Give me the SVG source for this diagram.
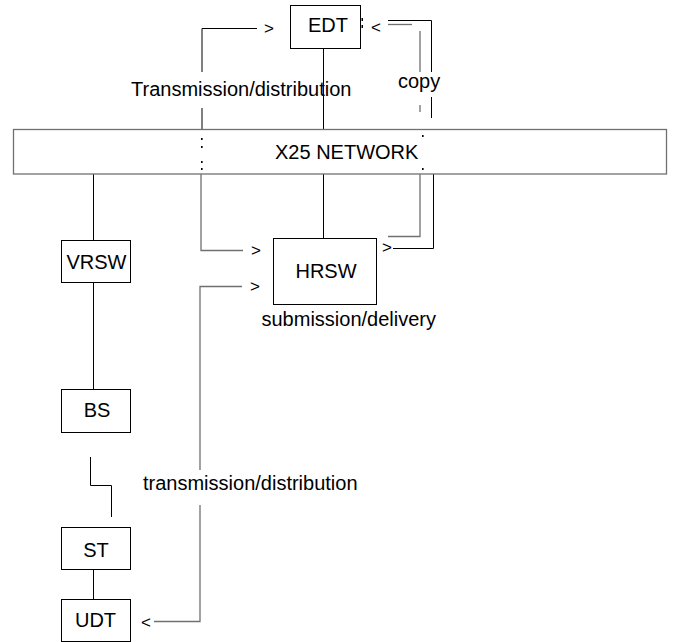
<svg xmlns="http://www.w3.org/2000/svg" width="677" height="642" viewBox="0 0 677 642">
<style>
text{font-family:"Liberation Sans",Arial,sans-serif;font-size:20px;fill:#000}
.sym{font-size:17px}
.box{fill:#fff;stroke:#000;stroke-width:1}
.ln{fill:none;stroke:#000;stroke-width:1}
.gl{fill:none;stroke:#707070;stroke-width:1.3}
.dot{fill:#000}
</style>
<rect width="677" height="642" fill="#fff"/>
<g id="connectors">
<path class="ln" d="M323.5 48 V129"/>
<path class="ln" d="M323.5 174 V238"/>
<path class="ln" d="M93.5 174 V240"/>
<path class="ln" d="M93.5 282 V389"/>
<path class="ln" d="M93.5 569 V599"/>
<path class="ln" d="M90.5 457 V485.5 H111.5 V517"/>
<path class="ln" d="M202 72 V28.5 H257"/>
<path class="ln" d="M202 108 V129"/>
<path class="gl" d="M201 174 V250.5 H243"/>
<path class="gl" d="M200 470 V286.5 H242"/>
<path class="gl" d="M200 505 V621.5 H154"/>
<path class="ln" d="M388 20.5 H431.5 V72"/>
<path class="gl" d="M388 24.5 H412"/>
<path class="gl" d="M420 31 V72"/>
<path class="gl" d="M420 105 V112"/>
<path class="ln" d="M431.5 97 V118"/>
<path class="gl" d="M420 174 V236.5 H388"/>
<path class="ln" d="M433.5 174 V248.5 H393"/>
<rect class="dot" x="361.5" y="18" width="1.5" height="3"/>
<rect class="dot" x="361.5" y="25" width="1.5" height="3"/>
</g>
<g id="x25">
<rect x="13.5" y="129.5" width="653" height="44.5" fill="#fff" stroke="#707070" stroke-width="1.3"/>
<text x="275" y="158.5">X25 NETWORK</text>
<rect class="dot" x="201" y="138" width="1.6" height="2"/>
<rect class="dot" x="201" y="146" width="1.6" height="2"/>
<rect class="dot" x="201" y="161" width="1.6" height="2"/>
<rect class="dot" x="201" y="168" width="1.6" height="2"/>
<rect class="dot" x="422" y="135" width="1.6" height="2"/>
<rect class="dot" x="422" y="168" width="1.6" height="2"/>
</g>
<g id="edt"><rect class="box" x="290.5" y="5.5" width="70" height="43"/><text x="328" y="32" text-anchor="middle">EDT</text></g>
<g id="hrsw"><rect class="box" x="273.5" y="238.5" width="103" height="66"/><text x="326" y="278" text-anchor="middle">HRSW</text></g>
<g id="vrsw"><rect class="box" x="61.5" y="240.5" width="69" height="42"/><text x="96.5" y="269" text-anchor="middle">VRSW</text></g>
<g id="bs"><rect class="box" x="61.5" y="389.5" width="69" height="43"/><text x="97" y="417" text-anchor="middle">BS</text></g>
<g id="st"><rect class="box" x="61.5" y="527.5" width="69" height="42"/><text x="96" y="557" text-anchor="middle">ST</text></g>
<g id="udt"><rect class="box" x="61.5" y="599.5" width="69" height="42"/><text x="95.5" y="627" text-anchor="middle">UDT</text></g>
<g id="labels">
<text x="131" y="96">Transmission/distribution</text>
<text x="398" y="88">copy</text>
<text x="261.5" y="326">submission/delivery</text>
<text x="143" y="490">transmission/distribution</text>
<text class="sym" x="264" y="34">&gt;</text>
<text class="sym" x="371" y="33">&lt;</text>
<text class="sym" x="251" y="256">&gt;</text>
<text class="sym" x="250" y="292">&gt;</text>
<text class="sym" x="382" y="253">&gt;</text>
<text class="sym" x="141" y="628">&lt;</text>
</g>
</svg>
